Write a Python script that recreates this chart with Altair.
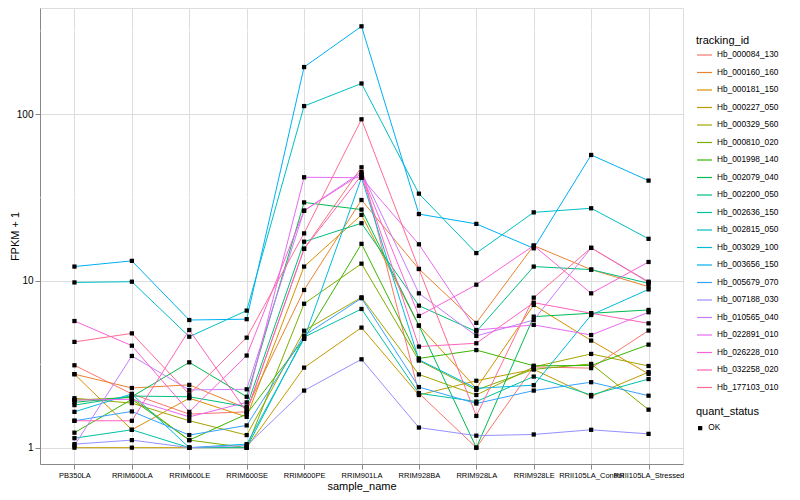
import altair as alt
import pandas as pd

samples = ["PB350LA", "RRIM600LA", "RRIM600LE", "RRIM600SE", "RRIM600PE", "RRIM901LA",
           "RRIM928BA", "RRIM928LA", "RRIM928LE", "RRII105LA_Control", "RRII105LA_Stressed"]

tracking_ids = ["Hb_000084_130", "Hb_000160_160", "Hb_000181_150", "Hb_000227_050",
                "Hb_000329_560", "Hb_000810_020", "Hb_001998_140", "Hb_002079_040",
                "Hb_002200_050", "Hb_002636_150", "Hb_002815_050", "Hb_003029_100",
                "Hb_003656_150", "Hb_005679_070", "Hb_007188_030", "Hb_010565_040",
                "Hb_022891_010", "Hb_026228_010", "Hb_032258_020", "Hb_177103_010"]

colors = ["#F8766D", "#EA8331", "#D89000", "#C09B00", "#A3A500", "#7CAE00", "#39B600",
          "#00BB4E", "#00BF7D", "#00C1A3", "#00BFC4", "#00BAE0", "#00B0F6", "#35A2FF",
          "#9590FF", "#C77CFF", "#E76BF3", "#FA62DB", "#FF62BC", "#FF6C91"]

hb_000084_130 = [3.12, 2.10, 1.59, 1.64, 15.6, 48.1, 2.12, 1.0, 3.05, 3.0, 5.04]
hb_000160_160 = [2.76, 2.28, 2.38, 1.72, 8.83, 30.6, 11.8, 5.6, 16.3, 11.7, 9.25]
hb_000181_150 = [2.76, 1.28, 1.98, 1.53, 12.2, 24.9, 5.4, 2.27, 7.18, 4.39, 2.77]
hb_000227_050 = [1.0, 1.0, 1.0, 1.0, 3.02, 5.25, 2.07, 2.52, 2.95, 2.03, 2.84]
hb_000329_560 = [1.98, 1.85, 1.45, 1.19, 5.03, 7.98, 2.75, 2.07, 3.05, 3.65, 3.09]
hb_000810_020 = [1.93, 2.0, 1.11, 1.0, 7.3, 12.7, 3.33, 2.22, 2.95, 3.18, 1.69]
hb_001998_140 = [1.23, 1.95, 1.11, 1.59, 4.5, 16.7, 3.43, 3.85, 3.1, 3.11, 4.15]
hb_002079_040 = [1.87, 2.02, 3.25, 2.02, 29.6, 26.8, 5.4, 1.0, 6.11, 6.4, 6.7]
hb_002200_050 = [1.80, 2.04, 2.02, 1.76, 17.2, 22.2, 7.11, 4.97, 12.2, 11.7, 9.68]
hb_002636_150 = [1.14, 1.28, 1.0, 1.0, 4.6, 6.79, 2.12, 1.89, 2.67, 2.07, 2.58]
hb_002815_050 = [9.8, 9.9, 4.63, 6.64, 112, 153, 33.4, 14.7, 25.8, 27.3, 17.9]
hb_003029_100 = [1.64, 2.10, 1.0, 1.05, 4.5, 41.6, 3.37, 2.27, 2.37, 6.25, 8.9]
hb_003656_150 = [12.2, 13.2, 5.83, 5.9, 192, 337, 25.2, 22.0, 15.7, 57, 40]
hb_005679_070 = [1.45, 1.65, 1.19, 1.36, 4.7, 7.88, 2.31, 1.84, 2.2, 2.47, 2.05]
hb_007188_030 = [1.05, 1.11, 1.0, 1.03, 2.2, 3.39, 1.32, 1.18, 1.2, 1.28, 1.21]
hb_010565_040 = [1.03, 3.55, 2.22, 2.24, 26.4, 45, 8.43, 4.68, 5.83, 15.8, 9.9]
hb_022891_010 = [1.93, 1.95, 1.53, 1.87, 41.9, 41.6, 16.6, 5.08, 5.45, 4.74, 6.49]
hb_026228_010 = [5.75, 4.09, 1.64, 3.57, 26.4, 44, 6.17, 9.5, 16.3, 8.43, 13.0]
hb_032258_020 = [1.45, 1.45, 5.08, 1.64, 15.6, 43, 4.04, 4.23, 7.41, 6.4, 5.57]
hb_177103_010 = [4.31, 4.85, 2.09, 4.57, 19.3, 93.3, 11.8, 1.55, 7.94, 15.8, 9.8]

series = [hb_000084_130, hb_000160_160, hb_000181_150, hb_000227_050, hb_000329_560,
          hb_000810_020, hb_001998_140, hb_002079_040, hb_002200_050, hb_002636_150,
          hb_002815_050, hb_003029_100, hb_003656_150, hb_005679_070, hb_007188_030,
          hb_010565_040, hb_022891_010, hb_026228_010, hb_032258_020, hb_177103_010]

y_breaks = [1, 10, 100]
minor_breaks = [3.1623, 31.623, 316.23]

rows = []
for tid, vals in zip(tracking_ids, series):
    for s, v in zip(samples, vals):
        rows.append({"tracking_id": tid, "sample_name": s, "fpkm1": v, "quant_status": "OK"})
df = pd.DataFrame(rows)
minor_df = pd.DataFrame({"v": minor_breaks})

FONT = "Liberation Sans"

yscale = alt.Scale(type="log", domain=[0.798, 434], nice=False, zero=False)
xscale = alt.Scale(domain=samples, padding=0.6)

minor = alt.Chart(minor_df).mark_rule(color="white", strokeWidth=0.6).encode(
    y=alt.Y("v:Q", scale=yscale)
)

lines = alt.Chart(df).mark_line(strokeWidth=1).encode(
    x=alt.X("sample_name:N", scale=xscale, sort=samples,
            axis=alt.Axis(title="sample_name", labelAngle=0, grid=True, labelPadding=2,
                          titlePadding=2, labelFontSize=7.5, titleFontWeight="normal")),
    y=alt.Y("fpkm1:Q", scale=yscale,
            axis=alt.Axis(title="FPKM + 1", values=y_breaks, format="d", grid=True,
                          labelPadding=2, titleX=-20, titleFontWeight="normal")),
    color=alt.Color("tracking_id:N", scale=alt.Scale(domain=tracking_ids, range=colors),
                    legend=alt.Legend(title="tracking_id", orient="none", legendX=656, legendY=27,
                                      symbolType="stroke", symbolSize=225, symbolStrokeWidth=1.2,
                                      labelFontSize=8.3, titleFontSize=11, titleFont=FONT,
                                      labelFont=FONT, titleFontWeight="normal", rowPadding=5.5,
                                      titlePadding=0.5, labelColor="black")),
    detail="tracking_id:N",
)

points = alt.Chart(df).mark_point(filled=True, color="black", size=18, opacity=1).encode(
    x=alt.X("sample_name:N", scale=xscale, sort=samples),
    y=alt.Y("fpkm1:Q", scale=yscale),
    shape=alt.Shape("quant_status:N", scale=alt.Scale(domain=["OK"], range=["square"]),
                    legend=alt.Legend(title="quant_status", orient="none", legendX=656, legendY=398,
                                      symbolSize=18, symbolFillColor="black", symbolStrokeColor="black",
                                      labelFontSize=8.3, titleFontSize=11, titleFont=FONT,
                                      labelFont=FONT, titleFontWeight="normal", titlePadding=7,
                                      labelColor="black")),
)

chart = alt.layer(minor, lines, points).properties(
    width=643, height=456,
    autosize=alt.AutoSizeParams(type="none"),
    padding={"left": 32, "top": 0, "right": 108, "bottom": 28},
).configure_view(fill="#EBEBEB", stroke=None).configure_axis(
    gridColor="white", gridWidth=1.2, domain=False, tickColor="#333333", tickSize=3,
    labelColor="#4D4D4D", labelFontSize=8, labelFont=FONT, titleFont=FONT,
    titleFontSize=11, titleFontWeight="normal", titleColor="black"
).configure(background="white")

chart.save("out.html", embed_options={"renderer": "svg", "actions": False})
